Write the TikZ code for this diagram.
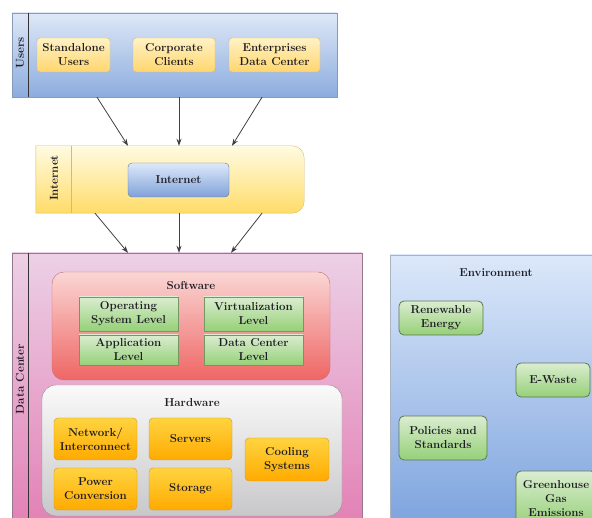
\documentclass[tikz,border=0pt]{standalone}
\usetikzlibrary{arrows.meta}

\definecolor{usrtop}{RGB}{222,232,247}
\definecolor{usrbot}{RGB}{140,172,222}
\definecolor{usrline}{RGB}{135,155,185}
\definecolor{yeltop}{RGB}{255,242,196}
\definecolor{yelbot}{RGB}{255,214,110}
\definecolor{yelline}{RGB}{214,186,112}
\definecolor{nettop}{RGB}{255,251,226}
\definecolor{netbot}{RGB}{255,220,104}
\definecolor{bluetop}{RGB}{222,233,250}
\definecolor{bluebot}{RGB}{128,162,216}
\definecolor{blueline}{RGB}{100,118,148}
\definecolor{dctop}{RGB}{236,208,230}
\definecolor{dcbot}{RGB}{226,124,178}
\definecolor{dcline}{RGB}{150,120,140}
\definecolor{swtop}{RGB}{250,214,212}
\definecolor{swbot}{RGB}{238,102,100}
\definecolor{swline}{RGB}{190,112,112}
\definecolor{grntop}{RGB}{218,237,208}
\definecolor{grnbot}{RGB}{150,208,120}
\definecolor{grnline}{RGB}{118,150,100}
\definecolor{hwtop}{RGB}{250,250,250}
\definecolor{hwbot}{RGB}{200,200,202}
\definecolor{hwline}{RGB}{150,140,150}
\definecolor{orgtop}{RGB}{255,212,64}
\definecolor{orgbot}{RGB}{255,170,0}
\definecolor{orgline}{RGB}{210,150,40}
\definecolor{envtop}{RGB}{220,232,250}
\definecolor{envbot}{RGB}{120,160,220}
\definecolor{envline}{RGB}{170,180,192}
\definecolor{txt}{RGB}{30,28,36}

\begin{document}
\begin{tikzpicture}[x=1pt, y=-1pt,
    every node/.style={font=\fontsize{11.5}{14}\selectfont\bfseries, text=txt, align=center, inner sep=0pt},
    group/.style={draw, minimum width=#1},
    usrbox/.style={rectangle, rounded corners=3pt, top color=yeltop, bottom color=yelbot, draw=yelline, minimum height=34pt},
    swbox/.style={rectangle, top color=grntop, bottom color=grnbot, draw=grnline, minimum width=99pt},
    hwbox/.style={rectangle, rounded corners=4pt, top color=orgtop, bottom color=orgbot, draw=orgline, minimum width=83pt, minimum height=42pt},
    envbox/.style={rectangle, rounded corners=5pt, top color=grntop, bottom color=grnbot, draw=grnline!80!black, thick},
    side/.style={rotate=90},
    arr/.style={draw=black!75, thick, -{Stealth[length=7pt,width=5pt]}}]

\useasboundingbox (0,0) rectangle (592,518);
\clip (0,0) rectangle (592,518);

% Users
\node[group=325pt, minimum height=84pt, top color=usrtop, bottom color=usrbot, draw=usrline] (users) at (174.5,55) {};
\draw[black!80] (28,13) -- (28,97);
\node[side] (usrlbl) at (20,53) {Users};
\node[usrbox, minimum width=73pt] (alone) at (73.5,55) {Standalone\\Users};
\node[usrbox, minimum width=82pt] (corp) at (174,55) {Corporate\\Clients};
\node[usrbox, minimum width=91pt] (ent) at (274.5,55) {Enterprises\\Data Center};

% Internet
\node[minimum width=268pt, minimum height=67pt] (inetbox) at (170,179.5) {};
\shade[top color=nettop, bottom color=netbot, draw=yelline]
  (inetbox.north west) [rounded corners=12pt] -- (inetbox.north east) -- (inetbox.south east) [sharp corners] -- (inetbox.south west) -- cycle;
\draw[yelline] (71,146) -- (71,213);
\node[side] (netlbl) at (54,178) {Internet};
\node[rectangle, rounded corners=4pt, minimum width=101pt, minimum height=34pt, top color=bluetop, bottom color=bluebot, draw=blueline] (inet) at (178.5,180) {Internet};

% Data Center
\node[group=350pt, minimum height=287pt, top color=dctop, bottom color=dcbot, draw=dcline] (dc) at (187,396.5) {};
\draw[black!80] (28,253) -- (28,530);
\node[side] (dclbl) at (20,379) {Data Center};

% Software
\node[rectangle, rounded corners=12pt, minimum width=278pt, minimum height=108pt, top color=swtop, bottom color=swbot, draw=swline] (sw) at (191,326) {};
\node (swlbl) at (191,286) {Software};
\node[swbox, minimum height=34pt] (os) at (128.5,314) {Operating\\System Level};
\node[swbox, minimum height=30pt] (app) at (128.5,350) {Application\\Level};
\node[swbox, minimum height=34pt] (virt) at (253.5,314) {Virtualization\\Level};
\node[swbox, minimum height=30pt] (dclev) at (253.5,350) {Data Center\\Level};

% Hardware
\node[rectangle, rounded corners=14pt, minimum width=300pt, minimum height=131pt, top color=hwtop, bottom color=hwbot, draw=hwline] (hw) at (192,450.5) {};
\node (hwlbl) at (192,403) {Hardware};
\node[hwbox] (net) at (95.5,439) {Network/\\Interconnect};
\node[hwbox] (srv) at (190.5,439) {Servers};
\node[hwbox] (pwr) at (95.5,489) {Power\\Conversion};
\node[hwbox] (stor) at (190.5,489) {Storage};
\node[hwbox, minimum width=84pt, minimum height=43pt] (cool) at (287,459.5) {Cooling\\Systems};

% Environment
\node[group=210pt, minimum height=285pt, top color=envtop, bottom color=envbot, draw=envline] (env) at (495,397.5) {};
\node (envlbl) at (496,273) {Environment};
\node[envbox, minimum width=84pt, minimum height=34pt] (renew) at (441,318) {Renewable\\Energy};
\node[envbox, minimum width=74pt, minimum height=34pt] (waste) at (553,380) {E-Waste};
\node[envbox, minimum width=88pt, minimum height=44pt] (policy) at (443,438) {Policies and\\Standards};
\node[envbox, minimum width=80pt, minimum height=56pt] (ghg) at (556,499) {Greenhouse\\Gas\\Emissions};

% Arrows
\draw[arr] (users.south -| 97,0) -- (inetbox.north -| 128,0);
\draw[arr] (users.south -| 179,0) -- (inetbox.north -| 179,0);
\draw[arr] (users.south -| 262,0) -- (inetbox.north -| 232,0);
\draw[arr] (inetbox.south -| 95,0) -- (dc.north -| 128,0);
\draw[arr] (inetbox.south -| 179,0) -- (dc.north -| 179,0);
\draw[arr] (inetbox.south -| 262,0) -- (dc.north -| 231,0);

\end{tikzpicture}
\end{document}
